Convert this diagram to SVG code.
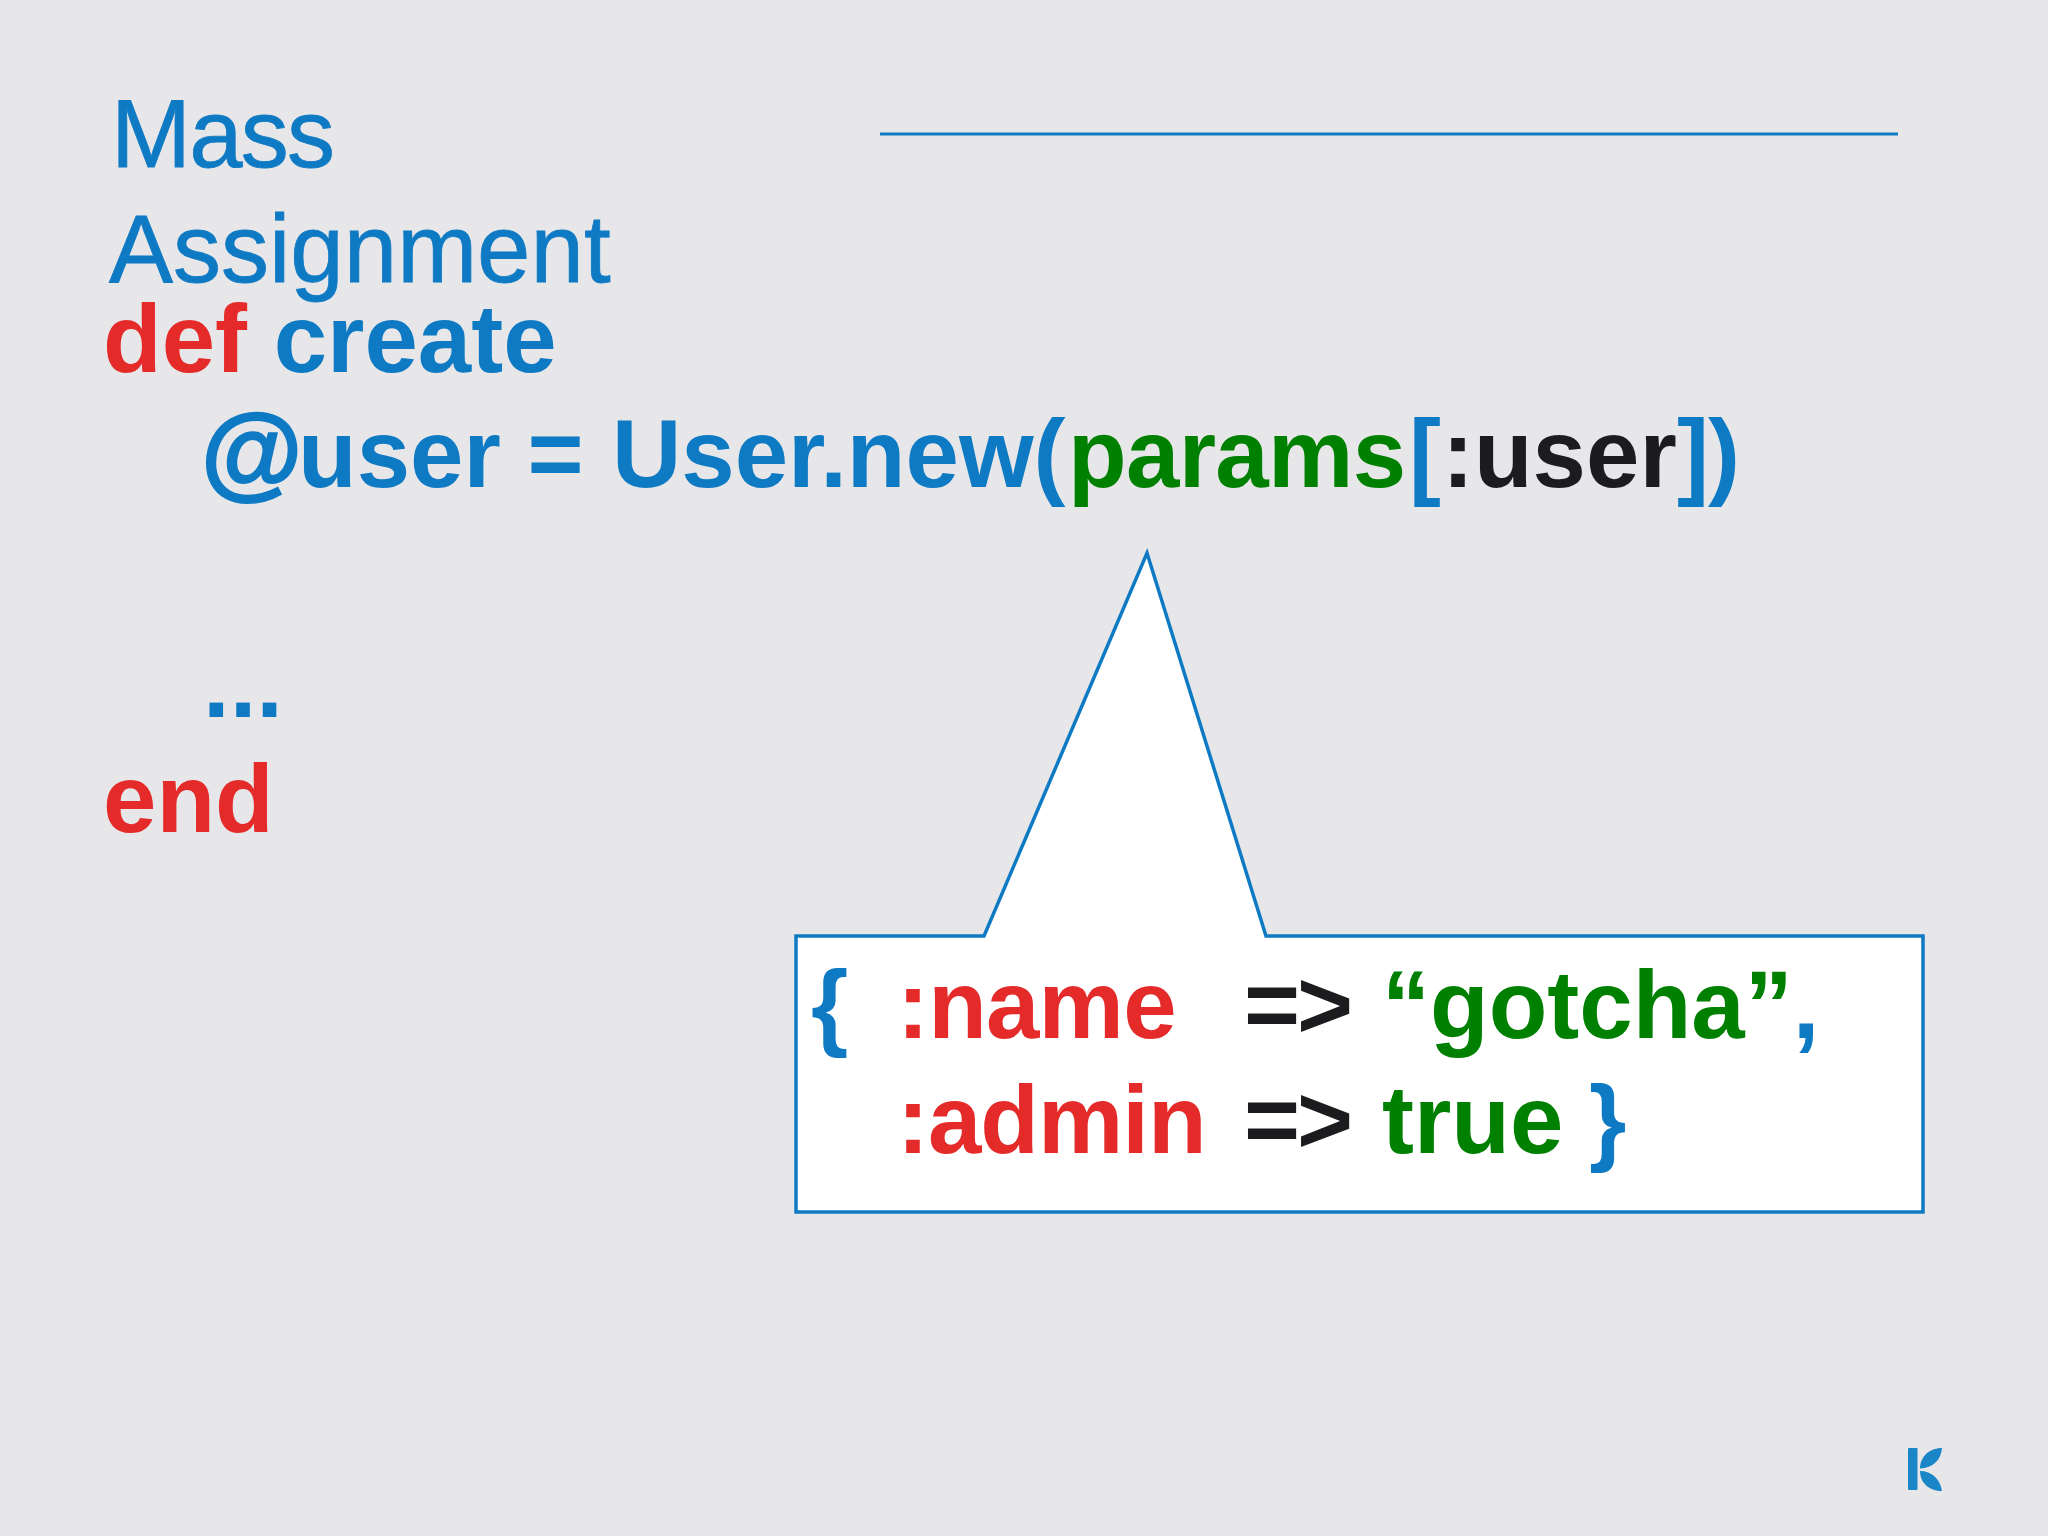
<svg xmlns="http://www.w3.org/2000/svg" width="2048" height="1536" viewBox="0 0 2048 1536">
<style>
text{font-family:"Liberation Sans",Arial,sans-serif;font-size:96px;white-space:pre}
.b{font-weight:700}
.t{stroke:#0f7ac4;stroke-width:.8px}
.blue{fill:#0f7ac4}.red{fill:#e52a2a}.green{fill:#008000}.black{fill:#1c1c1e}
</style>
<rect width="2048" height="1536" fill="#e7e7e9"/>
<g id="title">
<text class="blue t" x="111" y="167" textLength="224">Mass</text>
<text class="blue t" x="109" y="282">Assignment</text>
<line x1="880" y1="134" x2="1898" y2="134" stroke="#0f7ac4" stroke-width="3"/>
</g>
<g id="code">
<text class="b" x="103" y="372"><tspan class="red">def</tspan><tspan class="blue"> create</tspan></text>
<text class="b" y="487"><tspan class="blue t" x="201" style="font-size:104px;stroke-width:2px">@</tspan><tspan class="blue" x="298">user = </tspan><tspan class="blue" x="612">User.new(</tspan><tspan class="green" x="1068" style="letter-spacing:-.7px">params</tspan><tspan class="blue" x="1409">[</tspan><tspan class="black" x="1442">:user</tspan><tspan class="blue" x="1677" style="letter-spacing:-1px">])</tspan></text>
<text class="b blue" x="203" y="717">...</text>
<text class="b red" x="103" y="832">end</text>
</g>
<g id="callout">
<path d="M796 936H984L1147 553L1266 936H1923V1212H796Z" fill="#fff" stroke="#0f7ac4" stroke-width="3.500"/>
<text class="b blue" x="811" y="1038">{</text>
<text class="b red" x="897" y="1038" style="letter-spacing:-.8px">:name</text>
<text class="b black" x="1244" y="1038" style="letter-spacing:-3px">=&gt;</text>
<text class="b green" x="1382" y="1038">“gotcha”<tspan class="blue">,</tspan></text>
<text class="b red" x="897" y="1153" style="letter-spacing:-1px">:admin</text>
<text class="b black" x="1244" y="1153" style="letter-spacing:-3px">=&gt;</text>
<text class="b green" x="1382" y="1153">true</text>
<text class="b blue" x="1589" y="1153">}</text>
</g>
<g id="logo" fill="#1a86c8">
<rect x="1908" y="1448" width="9.500" height="42" rx="1"/>
<path d="M1920 1468.500C1920 1457 1929 1448 1942 1448C1941 1460 1933 1468 1920 1468.500Z"/>
<path d="M1920 1471C1932 1471 1940 1479 1942 1491C1929 1491 1920 1483 1920 1471Z"/>
</g>
</svg>
